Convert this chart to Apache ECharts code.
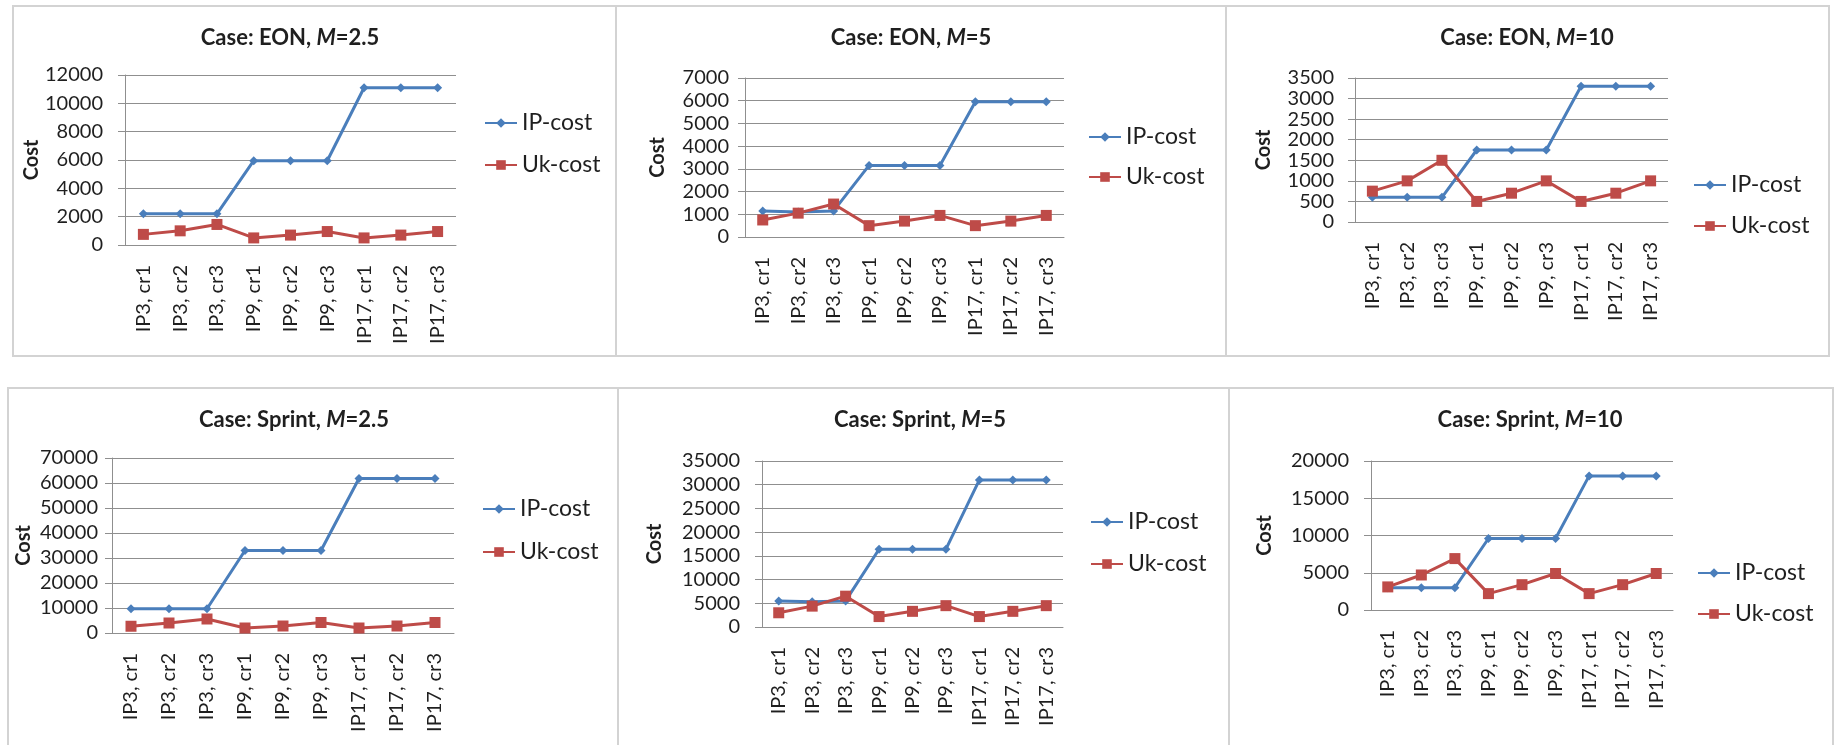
<!DOCTYPE html>
<html>
<head>
<meta charset="utf-8">
<title>IP-cost vs Uk-cost</title>
<script src="https://cdn.jsdelivr.net/npm/echarts@6/dist/echarts.min.js"></script>
<style>
  html, body { margin: 0; padding: 0; background: #ffffff; }
  #chart { width: 1835px; height: 745px; }
</style>
</head>
<body>
<div id="chart"></div>
<script>
// Category labels shared by every panel
const categories = ['IP3, cr1', 'IP3, cr2', 'IP3, cr3', 'IP9, cr1', 'IP9, cr2', 'IP9, cr3', 'IP17, cr1', 'IP17, cr2', 'IP17, cr3'];

// EON network
const eonM25IP = [2200, 2200, 2200, 5950, 5950, 5950, 11100, 11100, 11100];
const eonM25Uk = [750, 1000, 1450, 500, 700, 950, 500, 700, 950];
const eonM5IP = [1150, 1100, 1150, 3150, 3150, 3150, 5950, 5950, 5950];
const eonM5Uk = [750, 1050, 1450, 500, 700, 950, 500, 700, 950];
const eonM10IP = [600, 600, 600, 1750, 1750, 1750, 3300, 3300, 3300];
const eonM10Uk = [750, 1000, 1500, 500, 700, 1000, 500, 700, 1000];

// Sprint network
const sprintM25IP = [9700, 9700, 9700, 33000, 33000, 33000, 61800, 61800, 61800];
const sprintM25Uk = [2700, 4000, 5600, 2000, 2800, 4200, 2000, 2800, 4200];
const sprintM5IP = [5500, 5300, 5500, 16400, 16400, 16400, 31000, 31000, 31000];
const sprintM5Uk = [3000, 4400, 6500, 2200, 3300, 4500, 2200, 3300, 4500];
const sprintM10IP = [3000, 3000, 3000, 9600, 9600, 9600, 18000, 18000, 18000];
const sprintM10Uk = [3100, 4700, 6900, 2200, 3400, 4900, 2200, 3400, 4900];

// Panel titles and y-axis scales
const panelNetworks = ['EON', 'EON', 'EON', 'Sprint', 'Sprint', 'Sprint'];
const panelM = ['2.5', '5', '10', '2.5', '5', '10'];
const yMax = [12000, 7000, 3500, 70000, 35000, 20000];
const yStep = [2000, 1000, 500, 10000, 5000, 5000];
const ipSeries = [eonM25IP, eonM5IP, eonM10IP, sprintM25IP, sprintM5IP, sprintM10IP];
const ukSeries = [eonM25Uk, eonM5Uk, eonM10Uk, sprintM25Uk, sprintM5Uk, sprintM10Uk];

// Page layout for each panel: plot box, title centre, legend anchor (left, centre of first row, row spacing), frame
const layout = [
  { grid: [125, 75, 331, 170],  title: [290, 38],  legend: [484, 123, 42],  nameGap: 82, margin: 22, frame: [13, 6, 603, 350] },
  { grid: [745, 78, 319, 159],  title: [911, 38],  legend: [1088, 137, 40], nameGap: 77, margin: 16, frame: [616, 6, 610, 350] },
  { grid: [1355, 78, 313, 144], title: [1527, 38], legend: [1693, 185, 41], nameGap: 81, margin: 21, frame: [1226, 6, 603, 350] },
  { grid: [112, 458, 342, 175], title: [294, 420], legend: [482, 509, 43],  nameGap: 78, margin: 14, frame: [8, 388, 610, 370] },
  { grid: [762, 461, 301, 166], title: [920, 420], legend: [1090, 522, 42], nameGap: 97, margin: 22, frame: [618, 388, 611, 370] },
  { grid: [1371, 461, 302, 149], title: [1530, 420], legend: [1697, 573, 41], nameGap: 96, margin: 22, frame: [1229, 388, 604, 370] }
];

const FONT = 'Lato, "Open Sans", sans-serif';
const TEXT = '#1f1f1f';
const GRID_LINE = '#8f8f8f';
const IP_COLOR = '#4A7EBB';
const UK_COLOR = '#BE4B48';
const LEGEND_LINE = 24;

const option = {
  animation: false,
  backgroundColor: '#ffffff',
  textStyle: { fontFamily: FONT, color: TEXT },
  title: [], legend: [], grid: [], xAxis: [], yAxis: [], series: [], graphic: []
};

layout.forEach((p, i) => {
  option.graphic.push({
    type: 'rect', silent: true, z: -1,
    shape: { x: p.frame[0], y: p.frame[1], width: p.frame[2], height: p.frame[3] },
    style: { fill: 'none', stroke: '#d3d3d3', lineWidth: 2 }
  });

  option.title.push({
    text: '{b|Case: ' + panelNetworks[i] + ', }{i|M}{b|=' + panelM[i] + '}',
    left: p.title[0], top: p.title[1] - 13, textAlign: 'center', padding: 0,
    textStyle: {
      rich: {
        b: { fontFamily: FONT, fontWeight: 'bold', fontSize: 22, lineHeight: 26, color: TEXT },
        i: { fontFamily: FONT, fontWeight: 'bold', fontStyle: 'italic', fontSize: 22, lineHeight: 26, color: TEXT }
      }
    }
  });

  option.legend.push({
    left: p.legend[0], top: p.legend[1] - LEGEND_LINE / 2, orient: 'vertical', padding: 0,
    itemWidth: 32, itemHeight: 12, itemGap: p.legend[2] - LEGEND_LINE,
    data: ['IP-cost', 'Uk-cost'],
    textStyle: { fontFamily: FONT, fontSize: 23, lineHeight: LEGEND_LINE, color: TEXT }
  });

  option.grid.push({ left: p.grid[0], top: p.grid[1], width: p.grid[2], height: p.grid[3] });

  option.xAxis.push({
    type: 'category', gridIndex: i, data: categories, boundaryGap: true,
    axisLine: { show: true, lineStyle: { color: GRID_LINE, width: 1 } },
    axisTick: { show: false },
    axisLabel: { rotate: 90, interval: 0, margin: 20, fontFamily: FONT, fontSize: 20, color: TEXT }
  });

  option.yAxis.push({
    type: 'value', gridIndex: i, min: 0, max: yMax[i], interval: yStep[i],
    name: 'Cost', nameLocation: 'middle', nameGap: p.nameGap,
    nameTextStyle: { fontFamily: FONT, fontWeight: 'bold', fontSize: 20, color: TEXT },
    axisLine: { show: true, lineStyle: { color: GRID_LINE, width: 1 } },
    axisTick: { show: true, length: 7, lineStyle: { color: GRID_LINE } },
    splitLine: { show: true, lineStyle: { color: GRID_LINE, width: 1 } },
    axisLabel: {
      margin: p.margin, fontFamily: FONT, fontSize: 20, color: TEXT,
      formatter: v => String(v)
    }
  });

  option.series.push({
    name: 'IP-cost', type: 'line', xAxisIndex: i, yAxisIndex: i,
    data: ipSeries[i], symbol: 'diamond', symbolSize: 9,
    lineStyle: { color: IP_COLOR, width: 3 }, itemStyle: { color: IP_COLOR }
  });
  option.series.push({
    name: 'Uk-cost', type: 'line', xAxisIndex: i, yAxisIndex: i,
    data: ukSeries[i], symbol: 'rect', symbolSize: 11,
    lineStyle: { color: UK_COLOR, width: 3 }, itemStyle: { color: UK_COLOR }
  });
});

const chart = echarts.init(document.getElementById('chart'), null, { renderer: 'canvas' });
chart.setOption(option);
</script>
</body>
</html>
